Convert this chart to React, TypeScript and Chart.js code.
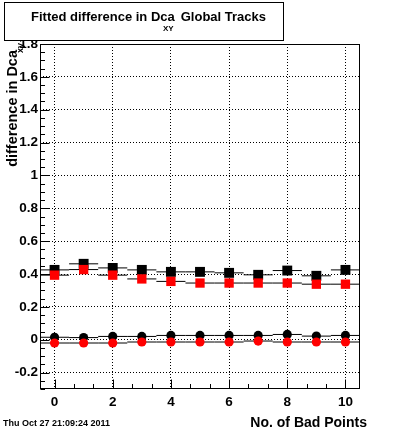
import { useEffect, useRef } from "react";
import { Chart, registerables } from "chart.js";

Chart.register(...registerables);

// ---- data ----
const badPoints = [0, 1, 2, 3, 4, 5, 6, 7, 8, 9, 10];
const blackSquareValues = [0.425, 0.462, 0.437, 0.425, 0.413, 0.413, 0.407, 0.395, 0.421, 0.389, 0.425];
const redSquareValues = [0.393, 0.427, 0.393, 0.37, 0.355, 0.345, 0.345, 0.345, 0.345, 0.338, 0.338];
const blackCircleValues = [0.015, 0.013, 0.02, 0.02, 0.026, 0.026, 0.026, 0.026, 0.032, 0.022, 0.026];
const redCircleValues = [-0.02, -0.02, -0.02, -0.014, -0.014, -0.014, -0.014, -0.008, -0.014, -0.014, -0.014];
const binHalfWidth = 0.5;

const xRange = [-0.5, 10.5];
const yRange = [-0.3, 1.8];
const xTicks = [0, 2, 4, 6, 8, 10];
const yTicks = [-0.2, 0, 0.2, 0.4, 0.6, 0.8, 1, 1.2, 1.4, 1.6, 1.8];
const xMinorStep = 2 / 3;
const yMinorStep = 0.05;

const titleMain = "Fitted difference in Dca";
const titleSub = "XY";
const titleTail = "Global Tracks";
const xTitle = "No. of Bad Points";
const yTitleMain = "difference in Dca";
const yTitleSub = "xy";
const timestamp = "Thu Oct 27 21:09:24 2011";

const FONT = "'Liberation Sans', Arial, Helvetica, sans-serif";

function points(values: number[]) {
  return badPoints.map((x, i) => ({ x, y: values[i] }));
}
function xErrorBars(values: number[]) {
  const out: { x: number; y: number | null }[] = [];
  badPoints.forEach((x, i) => {
    out.push({ x: x - binHalfWidth, y: values[i] });
    out.push({ x: x + binHalfWidth, y: values[i] });
    out.push({ x: x + binHalfWidth, y: null });
  });
  return out;
}

const decorPlugin = {
  id: "rootDecor",
  afterDraw(chart: any) {
    const { ctx, chartArea: a, scales } = chart;
    const xs = scales.x;
    const ys = scales.y;
    ctx.save();
    ctx.strokeStyle = "#000";
    ctx.fillStyle = "#000";
    ctx.lineWidth = 1;

    // frame
    const L = Math.round(a.left) + 0.5;
    const T = Math.round(a.top) + 0.5;
    const R = Math.round(a.right) - 0.5;
    const B = Math.round(a.bottom) - 0.5;
    ctx.strokeRect(L, T, R - L, B - T);

    // inner ticks
    ctx.beginPath();
    const yk0 = Math.ceil(yRange[0] / yMinorStep - 1e-6);
    const yk1 = Math.floor(yRange[1] / yMinorStep + 1e-6);
    for (let k = yk0; k <= yk1; k++) {
      const v = k * yMinorStep;
      const major = yTicks.some((t) => Math.abs(t - v) < 1e-6);
      const y = Math.round(ys.getPixelForValue(v)) + 0.5;
      ctx.moveTo(L, y);
      ctx.lineTo(L + (major ? 9 : 4.5), y);
    }
    const xk0 = Math.ceil(xRange[0] / xMinorStep - 1e-6);
    const xk1 = Math.floor(xRange[1] / xMinorStep + 1e-6);
    for (let k = xk0; k <= xk1; k++) {
      const v = k * xMinorStep;
      const major = xTicks.some((t) => Math.abs(t - v) < 1e-6);
      const x = Math.round(xs.getPixelForValue(v)) + 0.5;
      ctx.moveTo(x, B);
      ctx.lineTo(x, B - (major ? 9 : 4.5));
    }
    ctx.stroke();

    // title box
    ctx.fillStyle = "#fff";
    ctx.fillRect(4, 2, 280, 39);
    ctx.strokeRect(4.5, 2.5, 279, 38);
    ctx.fillStyle = "#000";
    ctx.textBaseline = "alphabetic";
    ctx.textAlign = "left";
    ctx.font = `bold 13px ${FONT}`;
    ctx.fillText(titleMain, 31, 21);
    ctx.font = `bold 8px ${FONT}`;
    ctx.fillText(titleSub, 163, 31);
    ctx.font = `bold 13px ${FONT}`;
    ctx.textAlign = "right";
    ctx.fillText(titleTail, 266, 21);

    // x title
    ctx.font = `bold 14px ${FONT}`;
    ctx.textAlign = "right";
    ctx.fillText(xTitle, 367, 427);

    // y title (rotated)
    ctx.save();
    ctx.translate(17, 50);
    ctx.rotate(-Math.PI / 2);
    ctx.font = `bold 14.5px ${FONT}`;
    ctx.textAlign = "right";
    ctx.fillText(yTitleMain, 0, 0);
    ctx.font = `bold 9px ${FONT}`;
    ctx.textAlign = "left";
    ctx.fillText(yTitleSub, -3, 5.5);
    ctx.restore();

    // timestamp
    ctx.font = `bold 9px ${FONT}`;
    ctx.textAlign = "left";
    ctx.fillText(timestamp, 3, 426);

    ctx.restore();
  },
};

const lineSet = (values: number[], order: number) => ({
  type: "line" as const,
  data: xErrorBars(values),
  borderColor: "#000",
  borderWidth: 1,
  pointRadius: 0,
  showLine: true,
  spanGaps: false,
  fill: false,
  order,
});

const markerSet = (values: number[], color: string, style: string, radius: number, order: number) => ({
  type: "scatter" as const,
  data: points(values),
  backgroundColor: color,
  borderColor: color,
  borderWidth: 0,
  pointStyle: style,
  pointRadius: radius,
  pointHoverRadius: radius,
  showLine: false,
  order,
});

export default function App() {
  const ref = useRef<HTMLCanvasElement | null>(null);
  useEffect(() => {
    if (!ref.current) return;
    const fmt = (v: number) => String(Number(v.toFixed(2)));
    const chart = new Chart(ref.current, {
      type: "scatter",
      data: {
        datasets: [
          markerSet(redSquareValues, "#ff0000", "rect", 6.6, 1),
          lineSet(redSquareValues, 2),
          markerSet(blackSquareValues, "#000000", "rect", 7, 3),
          lineSet(blackSquareValues, 4),
          markerSet(redCircleValues, "#ff0000", "circle", 4.6, 5),
          lineSet(redCircleValues, 6),
          markerSet(blackCircleValues, "#000000", "circle", 4.6, 7),
          lineSet(blackCircleValues, 8),
        ] as any,
      },
      options: {
        responsive: false,
        animation: false,
        devicePixelRatio: 1,
        layout: { padding: { top: 44, right: 40, left: 0, bottom: 0 } },
        plugins: {
          legend: { display: false },
          tooltip: { enabled: false },
          title: { display: false },
        },
        scales: {
          x: {
            type: "linear",
            min: xRange[0],
            max: xRange[1],
            afterBuildTicks: (s: any) => {
              s.ticks = xTicks.map((v) => ({ value: v }));
            },
            afterFit: (s: any) => {
              s.height = 44;
            },
            ticks: {
              color: "#000",
              font: { family: FONT, size: 13.5, weight: "bold" },
              padding: 5,
              maxRotation: 0,
              autoSkip: false,
              callback: (v: any) => fmt(Number(v)),
            },
            grid: { color: "#000", lineWidth: 1, drawTicks: false },
            border: { display: false, dash: [1, 2] },
          },
          y: {
            type: "linear",
            min: yRange[0],
            max: yRange[1],
            afterBuildTicks: (s: any) => {
              s.ticks = yTicks.map((v) => ({ value: v }));
            },
            afterFit: (s: any) => {
              s.width = 40;
            },
            ticks: {
              color: "#000",
              font: { family: FONT, size: 13.5, weight: "bold" },
              padding: 2,
              autoSkip: false,
              callback: (v: any) => fmt(Number(v)),
            },
            grid: { color: "#000", lineWidth: 1, drawTicks: false },
            border: { display: false, dash: [1, 2] },
          },
        },
      } as any,
      plugins: [decorPlugin],
    });
    return () => chart.destroy();
  }, []);
  return (
    <div style={{ position: "fixed", left: 0, top: 0, width: 400, height: 433, background: "#fff" }}>
      <canvas ref={ref} width={400} height={433} style={{ display: "block" }} />
    </div>
  );
}
